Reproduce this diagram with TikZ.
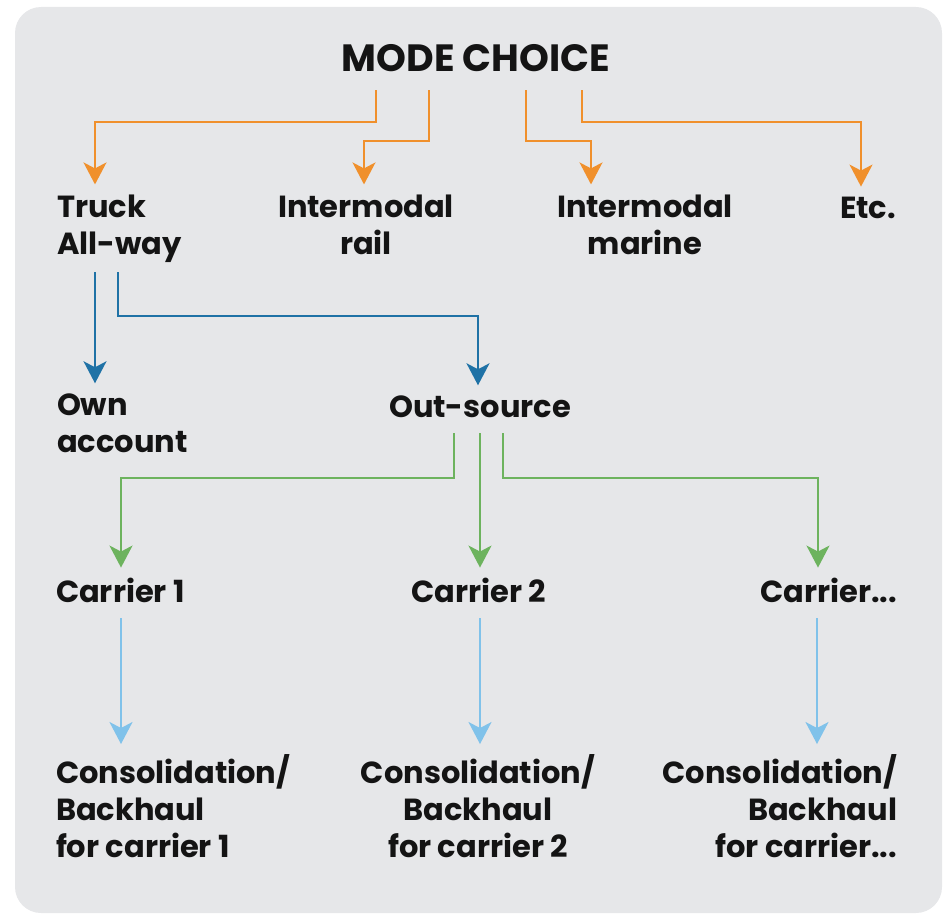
\documentclass[tikz,border=0pt]{standalone}
\usepackage{fontspec}
\setmainfont{Poppins}
\usetikzlibrary{arrows.meta}

\definecolor{panel}{HTML}{E6E7E9}
\definecolor{txt}{HTML}{141414}
\definecolor{modeorange}{HTML}{F0902C}
\definecolor{truckblue}{HTML}{1F72A6}
\definecolor{sourcegreen}{HTML}{6DB35E}
\definecolor{carrierblue}{HTML}{80C2EA}

\newcommand\lblfont{\fontsize{30.5}{37}\selectfont\bfseries}
\newcommand\headfont{\fontsize{38}{44}\selectfont\bfseries}

\tikzset{
  lbl/.style={inner sep=0pt, outer sep=0pt, font=\lblfont, text=txt},
  link/.style={line width=2.2pt, shorten >=10pt,
    -{Stealth[length=22pt,width=23pt,inset=6pt]}},
  orangelink/.style={link, draw=modeorange},
  bluelink/.style={link, draw=truckblue},
  greenlink/.style={link, draw=sourcegreen},
  lightlink/.style={link, draw=carrierblue}
}

\begin{document}
\begin{tikzpicture}[x=1pt, y=-1pt]
\useasboundingbox (0,0) rectangle (945,915);
\fill[panel, rounded corners=26pt] (15,7) rectangle (942,913);

% labels (base anchor sits on the last line)
\node[lbl, font=\headfont, anchor=base] (mode) at (476,72) {MODE CHOICE};

\node[lbl, anchor=base west, align=left] (truck) at (57,254) {Truck\\All-way};
\node[lbl, anchor=base, align=center] (rail) at (366,254) {Intermodal\\rail};
\node[lbl, anchor=base, align=center] (marine) at (645,254) {Intermodal\\marine};
\node[lbl, anchor=base] (etc) at (868,218) {Etc.};

\node[lbl, anchor=base west, align=left] (own) at (57,452) {Own\\account};
\node[lbl, anchor=base] (out) at (480,417) {Out-source};

\node[lbl, anchor=base west] (c1) at (56,602) {Carrier 1};
\node[lbl, anchor=base] (c2) at (479,602) {Carrier 2};
\node[lbl, anchor=base east] (c3) at (897,602) {Carrier...};

\node[lbl, anchor=base west, align=left] (b1) at (56,857)
  {Consolidation/\\Backhaul\\for carrier 1};
\node[lbl, anchor=base, align=center] (b2) at (478,857)
  {Consolidation/\\Backhaul\\for carrier 2};
\node[lbl, anchor=base east, align=right] (b3) at (897,857)
  {Consolidation/\\Backhaul\\for carrier...};

% mode choice branches
\draw[orangelink, shorten <=18pt] (376,0 |- mode.south) |- (95,122) -- (95,0 |- truck.north);
\draw[orangelink, shorten <=18pt] (429,0 |- mode.south) |- (364,141) -- (364,0 |- rail.north);
\draw[orangelink, shorten <=18pt] (526,0 |- mode.south) |- (591,141) -- (591,0 |- marine.north);
\draw[orangelink, shorten <=18pt] (582,0 |- mode.south) |- (861,122) -- (861,0 |- etc.north);

% truck branches
\draw[bluelink, shorten <=10pt] (95,0 |- truck.south) -- (95,0 |- own.north);
\draw[bluelink, shorten <=10pt] (118,0 |- truck.south) |- (478,316) -- (478,0 |- out.north);

% out-source branches
\draw[greenlink, shorten <=16pt] (454,0 |- out.south) |- (121,478) -- (121,0 |- c1.north);
\draw[greenlink, shorten <=16pt] (480,0 |- out.south) -- (480,0 |- c2.north);
\draw[greenlink, shorten <=16pt] (503,0 |- out.south) |- (818,478) -- (818,0 |- c3.north);

% carrier branches
\draw[lightlink, shorten <=16pt] (121,0 |- c1.base) -- (121,0 |- b1.north);
\draw[lightlink, shorten <=16pt] (480,0 |- c2.base) -- (480,0 |- b2.north);
\draw[lightlink, shorten <=16pt] (817,0 |- c3.base) -- (817,0 |- b3.north);
\end{tikzpicture}
\end{document}
